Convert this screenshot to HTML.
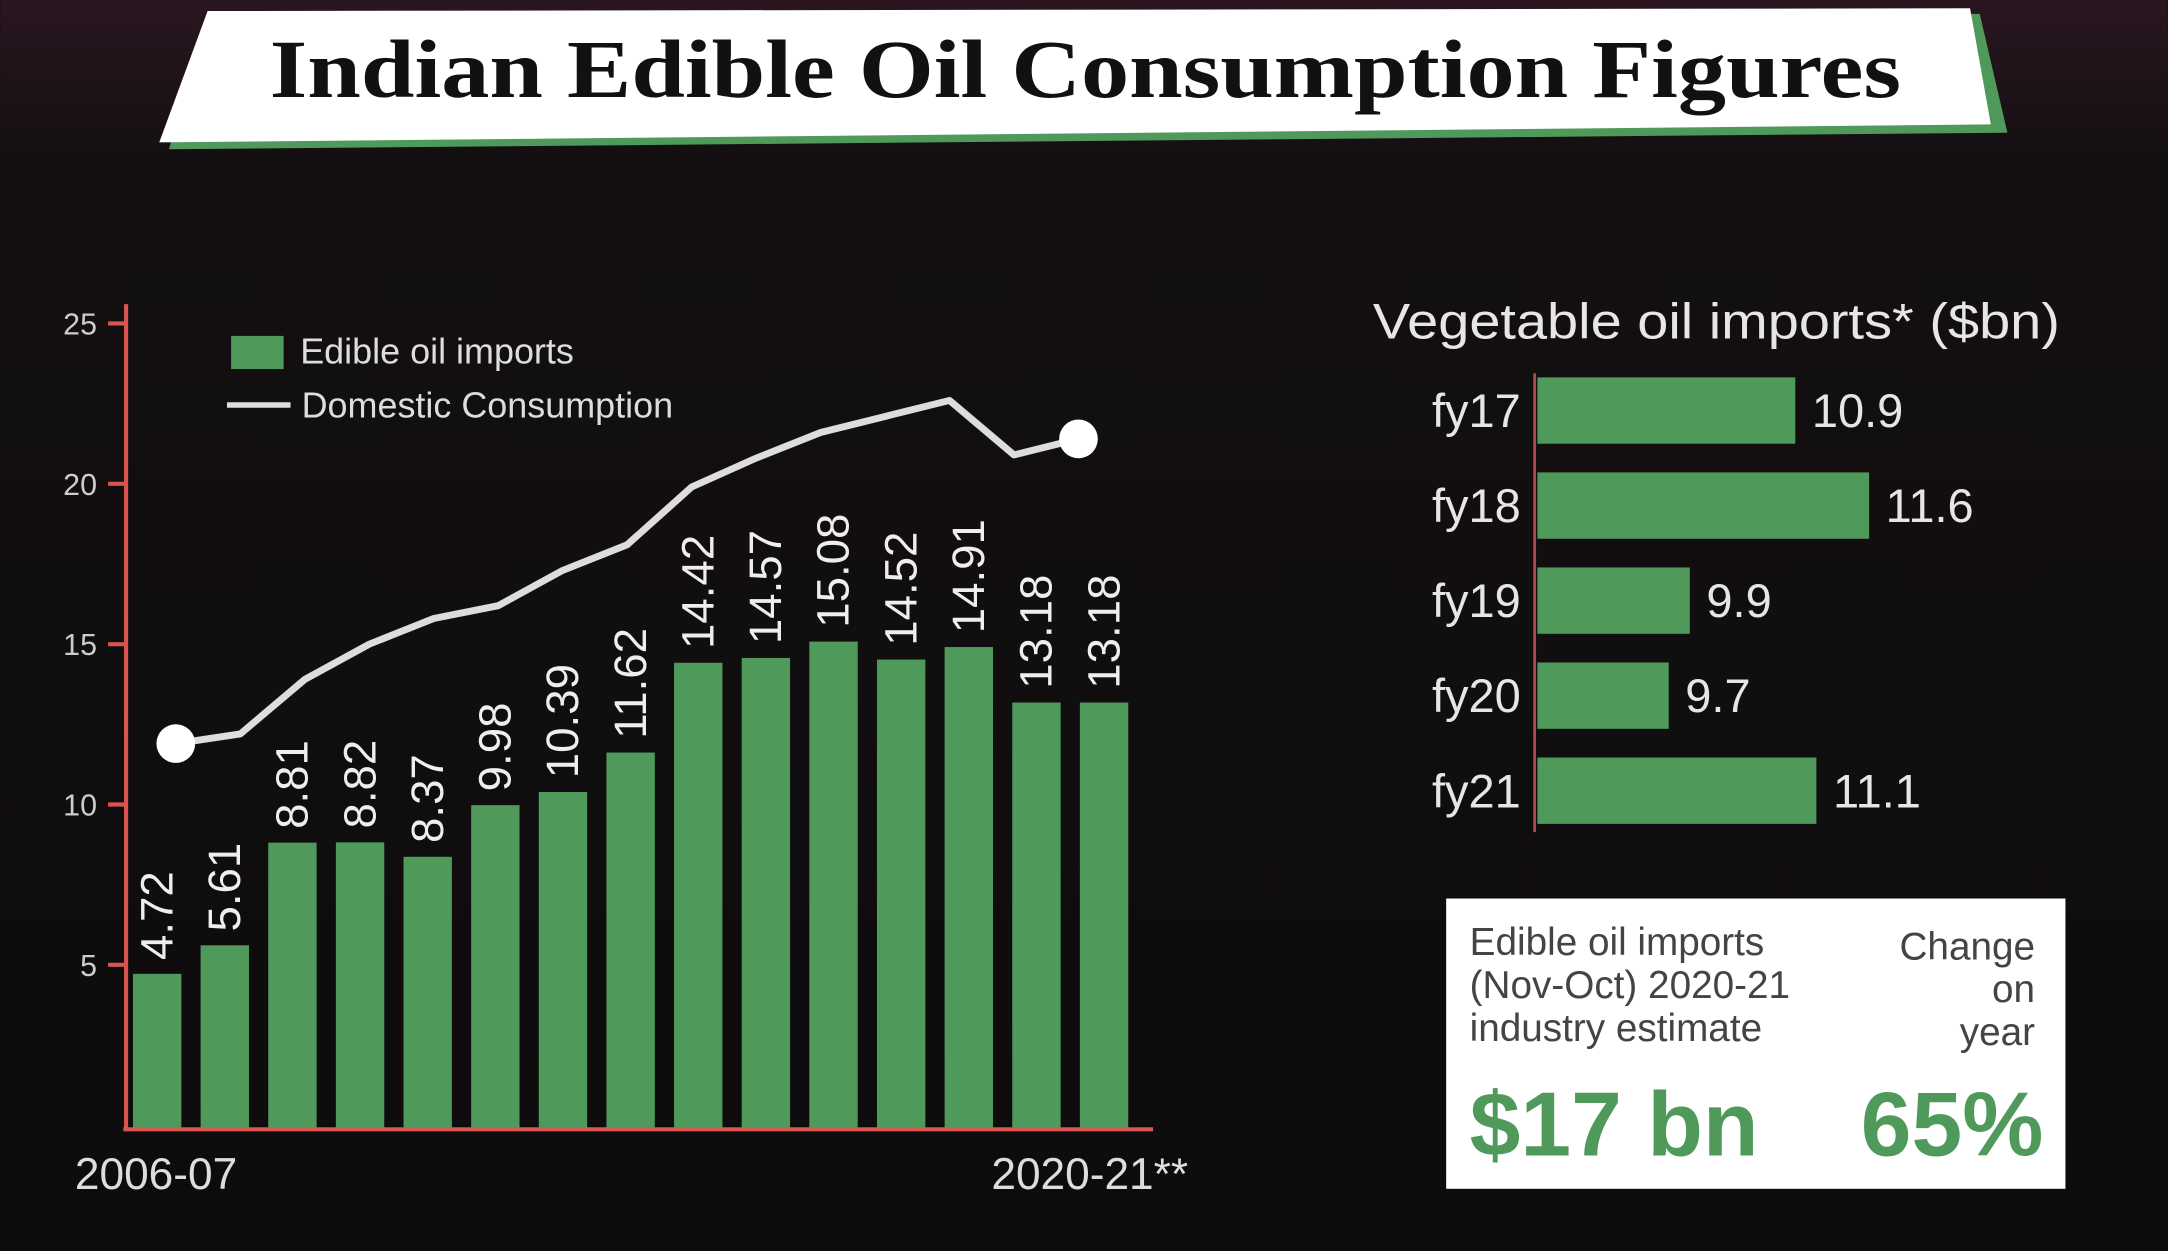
<!DOCTYPE html>
<html><head><meta charset="utf-8"><style>
html,body{margin:0;padding:0;background:#0e0c0c;}
svg{display:block;}
</style></head><body>
<svg id="chart" width="2168" height="1251" viewBox="0 0 1568 905" xmlns="http://www.w3.org/2000/svg" font-family="Liberation Sans, sans-serif">
<defs>
<linearGradient id="bg" x1="0" y1="0" x2="0" y2="1">
<stop offset="0" stop-color="#2a1620"/><stop offset="0.12" stop-color="#141012"/><stop offset="1" stop-color="#0d0b0b"/>
</linearGradient>
</defs>
<rect x="0" y="0" width="1568" height="905" fill="url(#bg)"/>
<g>
<polygon points="150,14 1432,10 1452,96 122,108" fill="#4f9a5a"/>
<polygon points="150,8 1425,6 1440,90 115,103" fill="#ffffff"/>
<text x="195" y="70" textLength="1180" lengthAdjust="spacingAndGlyphs" style="font-family:'Liberation Serif',serif" font-weight="bold" font-size="60" fill="#111">Indian Edible Oil Consumption Figures</text>
</g>
<g id="left"></g>
<g id="right"></g>
<g>
<rect x="1046" y="650" width="448" height="210" fill="#ffffff"/>
<text x="1063" y="691" font-size="28" fill="#444">Edible oil imports</text>
<text x="1063" y="722" font-size="28" fill="#444">(Nov-Oct) 2020-21</text>
<text x="1063" y="753" font-size="28" fill="#444">industry estimate</text>
<text x="1472" y="694" font-size="28" fill="#444" text-anchor="end">Change</text>
<text x="1472" y="725" font-size="28" fill="#444" text-anchor="end">on</text>
<text x="1472" y="756" font-size="28" fill="#444" text-anchor="end">year</text>
<text x="1063" y="836" font-size="66" font-weight="bold" fill="#4f9a5a">$17 bn</text>
<text x="1478" y="836" font-size="66" font-weight="bold" fill="#4f9a5a" text-anchor="end">65%</text>
</g>
</svg>
<script>
const years = ["2006-07","2007-08","2008-09","2009-10","2010-11","2011-12","2012-13","2013-14","2014-15","2015-16","2016-17","2017-18","2018-19","2019-20","2020-21**"];
const imports = [4.72,5.61,8.81,8.82,8.37,9.98,10.39,11.62,14.42,14.57,15.08,14.52,14.91,13.18,13.18];
const consumption = [11.9,12.2,13.9,15.0,15.8,16.2,17.3,18.1,19.9,20.8,21.6,22.1,22.6,20.9,21.4];
const yTicks = [5,10,15,20,25];
const fyCats = ["fy17","fy18","fy19","fy20","fy21"];
const fyVals = [10.9,11.6,9.9,9.7,11.1];

const NS="http://www.w3.org/2000/svg";
function mk(parent,tag,attrs,txt){const e=document.createElementNS(NS,tag);for(const k in attrs)e.setAttribute(k,attrs[k]);if(txt!==undefined)e.textContent=txt;parent.appendChild(e);return e;}

const L=document.getElementById('left');
const y0=814, yScale=23.2;
const Y=v=>y0-v*yScale;
const bx0=96, pitch=48.93, bw=35;
const X=i=>bx0+i*pitch;
const lx=i=>127+i*(780-127)/(consumption.length-1);
let ax=mk(L,'line',{x1:91,y1:220,x2:91,y2:818,stroke:'#d9534f','stroke-width':3});


let bxl=mk(L,'line',{x1:89,y1:817,x2:834,y2:817,stroke:'#d9534f','stroke-width':3});


yTicks.forEach(t=>{
  const tk=mk(L,'line',{x1:78,y1:Y(t),x2:91,y2:Y(t),stroke:'#d9534f','stroke-width':3});
  
  
  const tl=mk(L,'text',{x:70,y:Y(t)+8,'font-size':22,fill:'#ccc','text-anchor':'end'},String(t));
  
  
});
imports.forEach((v,i)=>{
  const r=mk(L,'rect',{x:X(i),y:Y(v),width:bw,height:y0+2-Y(v),fill:'#4f9a5a'});
  
  
  const cx=X(i)+bw/2+11, cy=Y(v)-10;
  const t=mk(L,'text',{x:cx,y:cy,'font-size':33,fill:'#eee',transform:`rotate(-90 ${cx} ${cy})`},v.toFixed(2));
  
  
});
const pts=consumption.map((v,i)=>lx(i)+','+Y(v)).join(' ');
const pl=mk(L,'polyline',{points:pts,fill:'none',stroke:'#ddd','stroke-width':5,'stroke-linejoin':'round'});


[0,consumption.length-1].forEach(i=>{
  const c=mk(L,'circle',{cx:lx(i),cy:Y(consumption[i]),r:14,fill:'#fff'});
  
  
});
const xl1=mk(L,'text',{x:54,y:860,'font-size':32,fill:'#ddd'},years[0]);


const xl2=mk(L,'text',{x:717,y:860,'font-size':32,fill:'#ddd'},years[years.length-1]);


const lg1=mk(L,'rect',{x:167,y:243,width:38,height:24,fill:'#4f9a5a'});


const lt1=mk(L,'text',{x:217,y:263,'font-size':26,fill:'#ddd'},'Edible oil imports');


const lg2=mk(L,'line',{x1:164,y1:293,x2:210,y2:293,stroke:'#ddd','stroke-width':4});


const lt2=mk(L,'text',{x:218,y:302,'font-size':26,fill:'#ddd'},'Domestic Consumption');



const R=document.getElementById('right');
const rx0=1112, rmin=8.455, rs=76.3, bh=48;
const RX=v=>rx0+(v-rmin)*rs;
const rt=mk(R,'text',{x:993,y:245,'font-size':36,fill:'#e6e6e6',textLength:497,lengthAdjust:'spacingAndGlyphs'},'Vegetable oil imports* ($bn)');


const ra=mk(R,'line',{x1:1110,y1:270,x2:1110,y2:602,stroke:'#b04a4a','stroke-width':2});


fyVals.forEach((v,i)=>{
  const yy=273+i*68.75;
  const b=mk(R,'rect',{x:rx0,y:yy,width:RX(v)-rx0,height:bh,fill:'#4f9a5a'});
  
  
  const c=mk(R,'text',{x:1100,y:yy+36,'font-size':34,fill:'#e6e6e6','text-anchor':'end'},fyCats[i]);
  
  
  const vl=mk(R,'text',{x:RX(v)+12,y:yy+36,'font-size':34,fill:'#e6e6e6'},v.toFixed(1));
  
  
});
</script>
</body></html>
